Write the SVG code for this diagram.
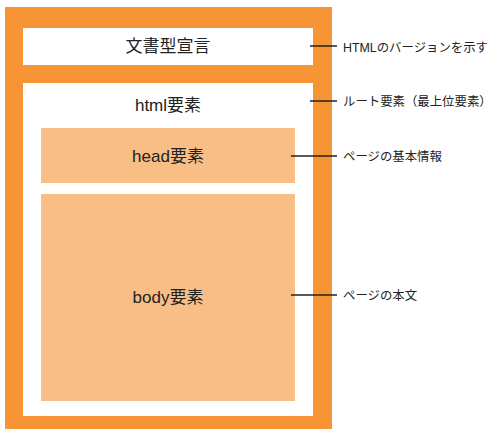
<svg xmlns="http://www.w3.org/2000/svg" width="494" height="429" viewBox="0 0 494 429">
<style>
.main{font-family:"Liberation Sans","Noto Sans CJK JP",sans-serif;font-size:17px;fill:#222;text-anchor:middle}
.lbl{font-family:"Liberation Sans","Noto Sans CJK JP",sans-serif;font-size:12.4px;fill:#222}
.ln{stroke:#222;stroke-width:1.5;fill:none}
</style>
<rect width="494" height="429" fill="#fff"/>
<g id="outer"><rect x="5" y="7" width="327" height="422" fill="#f79433"/></g>
<g id="doctype"><rect x="23" y="28" width="290" height="37" fill="#fff"/><text class="main" x="168" y="52">文書型宣言</text></g>
<g id="html"><rect x="23" y="83" width="290" height="333" fill="#fff"/><text class="main" x="168" y="111">html要素</text></g>
<g id="head"><rect x="41" y="128" width="254" height="55" fill="#f9be85"/><text class="main" x="168" y="162">head要素</text></g>
<g id="body"><rect x="41" y="194" width="254" height="207" fill="#f9be85"/><text class="main" x="168" y="303">body要素</text></g>
<g id="connectors">
<line class="ln" x1="310" y1="46" x2="337" y2="46"/>
<line class="ln" x1="310" y1="101" x2="337" y2="101"/>
<line class="ln" x1="291" y1="156" x2="337" y2="156"/>
<line class="ln" x1="291" y1="295" x2="337" y2="295"/>
</g>
<g id="labels">
<text class="lbl" x="343" y="52">HTMLのバージョンを示す</text>
<text class="lbl" x="343" y="106">ルート要素（最上位要素）</text>
<text class="lbl" x="343" y="161">ページの基本情報</text>
<text class="lbl" x="343" y="300">ページの本文</text>
</g>
</svg>
